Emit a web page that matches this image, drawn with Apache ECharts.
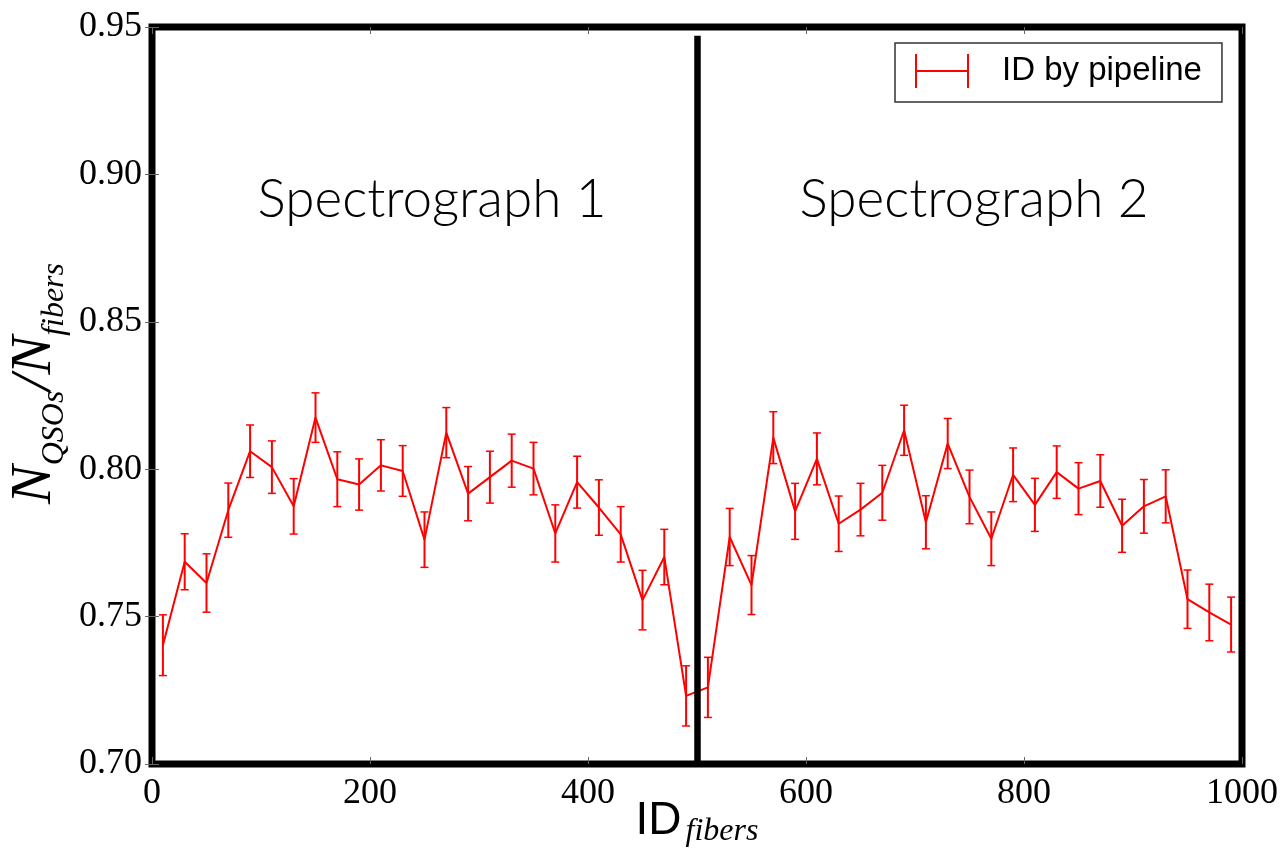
<!DOCTYPE html>
<html>
<head>
<meta charset="utf-8">
<script src="https://cdn.jsdelivr.net/npm/echarts@6/dist/echarts.min.js"></script>
<style>
  html, body { margin: 0; padding: 0; background: #fff; }
  #chart { width: 1281px; height: 855px; }
</style>
</head>
<body>
<div id="chart"></div>
<script>
// fibre bin centres (ID_fibers)
const fiberIds = [10, 30, 50, 70, 90, 110, 130, 150, 170, 190,
  210, 230, 250, 270, 290, 310, 330, 350, 370, 390,
  410, 430, 450, 470, 490, 510, 530, 550, 570, 590,
  610, 630, 650, 670, 690, 710, 730, 750, 770, 790,
  810, 830, 850, 870, 890, 910, 930, 950, 970, 990];

// N_QSOs / N_fibers
const qsoFraction = [0.7403, 0.7686, 0.7614, 0.7861, 0.8061, 0.8007, 0.7874, 0.8175, 0.7966, 0.7948,
  0.8013, 0.7994, 0.7761, 0.8124, 0.7917, 0.7973, 0.8029, 0.8002, 0.7782, 0.7956,
  0.7870, 0.7779, 0.7556, 0.7702, 0.7231, 0.7260, 0.7770, 0.7607, 0.8107, 0.7857,
  0.8035, 0.7815, 0.7863, 0.7920, 0.8132, 0.7820, 0.8087, 0.7906, 0.7764, 0.7981,
  0.7879, 0.7990, 0.7934, 0.7960, 0.7808, 0.7874, 0.7908, 0.7559, 0.7514, 0.7473];

// half-length of the error bars
const qsoError = [0.0103, 0.0095, 0.0099, 0.0092, 0.0089, 0.0089, 0.0094, 0.0084, 0.0093, 0.0087,
  0.0087, 0.0086, 0.0094, 0.0085, 0.0092, 0.0088, 0.0090, 0.0089, 0.0097, 0.0088,
  0.0094, 0.0094, 0.0101, 0.0094, 0.0102, 0.0102, 0.0097, 0.0100, 0.0088, 0.0095,
  0.0088, 0.0094, 0.0089, 0.0093, 0.0085, 0.0090, 0.0085, 0.0091, 0.0091, 0.0091,
  0.0090, 0.0089, 0.0088, 0.0089, 0.0090, 0.0091, 0.0090, 0.0099, 0.0096, 0.0093];

const seriesName = 'ID by pipeline';
const spectrographs = ['Spectrograph 1', 'Spectrograph 2'];
const splitAt = 500;

const chart = echarts.init(document.getElementById('chart'));

const lineData = fiberIds.map((x, i) => [x, qsoFraction[i]]);
const errData = fiberIds.map((x, i) => [x, qsoFraction[i] - qsoError[i], qsoFraction[i] + qsoError[i]]);

const serif = 'Liberation Serif';
const red = '#ff0000';

const option = {
  animation: false,
  grid: {
    left: 152,
    right: 39,
    top: 27,
    bottom: 91,
    outerBoundsMode: 'none',
    containLabel: false,
    show: true,
    borderColor: '#000',
    borderWidth: 7,
    backgroundColor: 'transparent'
  },
  legend: {
    left: 895,
    top: 43,
    padding: [11, 20, 14, 20],
    backgroundColor: '#fff',
    borderColor: '#333',
    borderWidth: 1.5,
    borderRadius: 0,
    itemWidth: 54,
    itemHeight: 34,
    selectedMode: false,
    data: [{
      name: seriesName,
      icon: 'path://M0,0h2v34h-2z M0,16h54v2h-54z M52,0h2v34h-2z'
    }],
    textStyle: {
      fontFamily: 'Liberation Sans',
      fontSize: 33,
      color: '#000',
      padding: [0, 0, 0, 28]
    }
  },
  xAxis: [{
    type: 'value',
    min: 0,
    max: 1000,
    interval: 200,
    position: 'bottom',
    splitLine: { show: false },
    axisLine: { show: false },
    axisTick: { inside: true, length: 7, lineStyle: { color: '#666', width: 1 } },
    axisLabel: { fontFamily: serif, fontSize: 36, color: '#000', margin: 12, formatter: v => String(v) },
    name: '{a|ID}{b|fibers}',
    nameLocation: 'middle',
    nameGap: 34,
    nameMoveOverlap: false,
    nameTextStyle: {
      rich: {
        a: { fontFamily: 'Liberation Sans', fontSize: 46, color: '#000', lineHeight: 50, verticalAlign: 'top' },
        b: { fontFamily: serif, fontStyle: 'italic', fontSize: 32, color: '#000', lineHeight: 32, padding: [18, 0, 0, 4], verticalAlign: 'top' }
      }
    }
  }, {
    type: 'value',
    min: 0,
    max: 1000,
    interval: 200,
    position: 'top',
    splitLine: { show: false },
    axisLine: { show: false },
    axisTick: { inside: true, length: 7, lineStyle: { color: '#666', width: 1 } },
    axisLabel: { show: false }
  }],
  yAxis: [{
    type: 'value',
    min: 0.70,
    max: 0.95,
    interval: 0.05,
    position: 'left',
    splitLine: { show: false },
    axisLine: { show: false },
    axisTick: { inside: true, length: 7, lineStyle: { color: '#666', width: 1 } },
    axisLabel: {
      fontFamily: serif, fontSize: 36, color: '#000', margin: 10,
      formatter: v => v.toFixed(2)
    },
    name: '{n|N}{s|QSOs}{n|/N}{s|fibers}',
    nameLocation: 'middle',
    nameGap: 88,
    nameRotate: 90,
    nameMoveOverlap: false,
    nameTextStyle: {
      padding: [0, 0, 0, 24],
      rich: {
        n: { fontFamily: serif, fontStyle: 'italic', fontSize: 58, color: '#000', lineHeight: 58, verticalAlign: 'top' },
        s: { fontFamily: serif, fontStyle: 'italic', fontSize: 32, color: '#000', lineHeight: 32, padding: [33, 0, 0, 0], verticalAlign: 'top' }
      }
    }
  }, {
    type: 'value',
    min: 0.70,
    max: 0.95,
    interval: 0.05,
    position: 'right',
    splitLine: { show: false },
    axisLine: { show: false },
    axisTick: { inside: true, length: 7, lineStyle: { color: '#666', width: 1 } },
    axisLabel: { show: false }
  }],
  graphic: [{
    type: 'text',
    x: 432,
    y: 200,
    style: {
      text: spectrographs[0],
      fontFamily: 'Lato',
      fontWeight: 300,
      fontSize: 53,
      fill: '#000',
      textAlign: 'center',
      textVerticalAlign: 'middle'
    }
  }, {
    type: 'text',
    x: 974,
    y: 200,
    style: {
      text: spectrographs[1],
      fontFamily: 'Lato',
      fontWeight: 300,
      fontSize: 53,
      fill: '#000',
      textAlign: 'center',
      textVerticalAlign: 'middle'
    }
  }],
  series: [{
    name: seriesName,
    type: 'custom',
    itemStyle: { color: red },
    data: errData,
    encode: { x: 0, y: [1, 2] },
    renderItem: function (params, api) {
      const x = api.value(0);
      const lo = api.coord([x, api.value(1)]);
      const hi = api.coord([x, api.value(2)]);
      const cap = 4;
      const st = { stroke: red, lineWidth: 2 };
      return {
        type: 'group',
        children: [
          { type: 'line', shape: { x1: lo[0], y1: lo[1], x2: hi[0], y2: hi[1] }, style: st },
          { type: 'line', shape: { x1: lo[0] - cap, y1: lo[1], x2: lo[0] + cap, y2: lo[1] }, style: { stroke: red, lineWidth: 1.5 } },
          { type: 'line', shape: { x1: hi[0] - cap, y1: hi[1], x2: hi[0] + cap, y2: hi[1] }, style: { stroke: red, lineWidth: 1.5 } }
        ]
      };
    },
    z: 3
  }, {
    name: seriesName,
    type: 'line',
    data: lineData,
    showSymbol: false,
    symbol: 'none',
    lineStyle: { color: red, width: 2 },
    itemStyle: { color: red },
    z: 4,
    markLine: {
      silent: true,
      symbol: 'none',
      label: { show: false },
      lineStyle: { color: '#000', width: 6.5, type: 'solid' },
      emphasis: { disabled: true },
      data: [[{ coord: [splitAt, 0.70] }, { coord: [splitAt, 0.947] }]]
    }
  }]
};

chart.setOption(option);
</script>
</body>
</html>
